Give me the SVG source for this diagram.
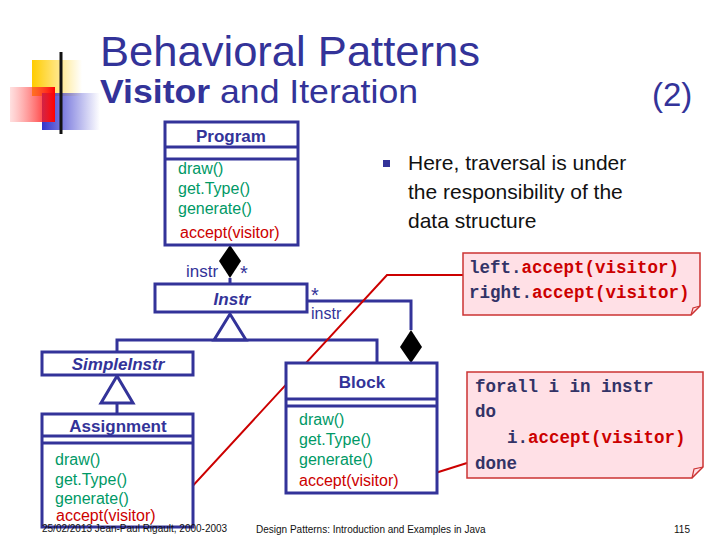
<svg xmlns="http://www.w3.org/2000/svg" width="720" height="540" viewBox="0 0 720 540">
<style>
.b{fill:#fff;stroke:#333399;stroke-width:3}
.l{stroke:#333399;stroke-width:3;fill:none}
.t{font-family:"Liberation Sans",Arial,sans-serif}
.g{fill:#009966;font-size:16px}
.r{fill:#cc0000}
.h{fill:#333399;font-weight:bold;font-size:17px}
.m{font-family:"Liberation Mono","Courier New",monospace;font-weight:bold;font-size:17.5px;fill:#333366}
.n{fill:#ffe0e6;stroke:#cc3333;stroke-width:1.5}
</style>
<defs>
<linearGradient id="gy" x1="0" x2="1"><stop offset="0" stop-color="#ffcc00"/><stop offset="1" stop-color="#ffcc00" stop-opacity="0"/></linearGradient>
<linearGradient id="gb" x1="0" x2="1"><stop offset="0" stop-color="#3333cc"/><stop offset="1" stop-color="#3333cc" stop-opacity="0"/></linearGradient>
<linearGradient id="gr" x1="1" x2="0"><stop offset="0" stop-color="#ff0000"/><stop offset="1" stop-color="#ff6666" stop-opacity="0.2"/></linearGradient>
<linearGradient id="gl" x1="0" x2="1"><stop offset="0" stop-color="#222"/><stop offset="1" stop-color="#888"/></linearGradient>
</defs>
<g id="logo">
<rect x="32" y="60" width="50" height="36" fill="url(#gy)"/>
<rect x="42" y="93" width="58" height="37" fill="url(#gb)"/>
<rect x="10" y="87" width="45" height="35" fill="url(#gr)"/>
<line x1="61" y1="52" x2="61" y2="134" stroke="#111" stroke-width="3"/>
<line x1="34" y1="115" x2="420" y2="115" stroke="url(#gl)" stroke-width="3"/>
</g>
<g id="title" class="t" fill="#333399">
<text x="100" y="66" font-size="43" textLength="380" lengthAdjust="spacingAndGlyphs">Behavioral Patterns</text>
<text x="100" y="103" font-size="33" textLength="318" lengthAdjust="spacingAndGlyphs"><tspan font-weight="bold">Visitor</tspan> and Iteration</text>
<text x="652" y="106" font-size="33">(2)</text>
</g>
<g id="bullet" class="t" font-size="21" fill="#111">
<rect x="383" y="160" width="7" height="7" fill="#333399"/>
<text x="408" y="170">Here, traversal is under</text>
<text x="408" y="199">the responsibility of the</text>
<text x="408" y="228">data structure</text>
</g>
<g id="connectors">
<line class="l" x1="230" y1="278" x2="230" y2="284"/>
<polygon points="230,245 241,261 230,278 219,261" fill="#000"/>
<polygon class="b" points="230,314 214,340 246,340"/>
<polyline class="l" points="117,352 117,340 377,340 377,363"/>
<polygon class="b" points="117,376 101,403 133,403"/>
<line class="l" x1="117" y1="403" x2="117" y2="414"/>
<polyline class="l" points="307,301 411,301 411,330"/>
<polygon points="411,330 422,347 411,363 400,347" fill="#000"/>
<polyline points="165,516 387,275 465,275" fill="none" stroke="#cc0000" stroke-width="2"/>
<line x1="410" y1="481" x2="467" y2="463" stroke="#cc0000" stroke-width="2"/>
</g>
<g id="Program" class="t">
<rect class="b" x="165" y="122" width="133" height="123"/>
<line class="l" x1="165" y1="147" x2="298" y2="147"/><line class="l" x1="165" y1="159" x2="298" y2="159"/>
<text x="231" y="142" class="h" text-anchor="middle">Program</text>
<text x="178" y="174" class="g">draw()</text><text x="178" y="194" class="g">get.Type()</text><text x="178" y="214" class="g">generate()</text>
<text x="180" y="238" class="r" font-size="16">accept(visitor)</text>
<text x="186" y="277" font-size="17" fill="#333399">instr</text><text x="240" y="280" font-size="20" fill="#333399">*</text>
</g>
<g id="Instr" class="t">
<rect class="b" x="155" y="284" width="152" height="28"/>
<text x="232" y="305" class="h" font-style="italic" text-anchor="middle">Instr</text>
<text x="311" y="302" font-size="20" fill="#333399">*</text><text x="311" y="319" font-size="16" fill="#333399">instr</text>
</g>
<g id="SimpleInstr" class="t">
<rect class="b" x="42" y="352" width="151" height="23"/>
<text x="118" y="370" class="h" font-style="italic" text-anchor="middle">SimpleInstr</text>
</g>
<g id="Assignment" class="t">
<rect class="b" x="42" y="414" width="151" height="113"/>
<line class="l" x1="42" y1="436" x2="193" y2="436"/><line class="l" x1="42" y1="443" x2="193" y2="443"/>
<text x="118" y="432" class="h" text-anchor="middle">Assignment</text>
<text x="55" y="465" class="g">draw()</text><text x="55" y="485" class="g">get.Type()</text><text x="55" y="504" class="g">generate()</text>
<text x="56" y="521" class="r" font-size="16">accept(visitor)</text>
</g>
<g id="Block" class="t">
<rect class="b" x="286" y="363" width="151" height="130"/>
<line class="l" x1="286" y1="399" x2="437" y2="399"/><line class="l" x1="286" y1="406" x2="437" y2="406"/>
<text x="362" y="388" class="h" text-anchor="middle">Block</text>
<text x="299" y="425" class="g">draw()</text><text x="299" y="445" class="g">get.Type()</text><text x="299" y="465" class="g">generate()</text>
<text x="299" y="486" class="r" font-size="16">accept(visitor)</text>
</g>
<g id="note1">
<path class="n" d="M463,253 H700 V306 L691,315 H463 Z"/>
<path d="M691,315 L693,308 L700,306" fill="none" stroke="#cc3333" stroke-width="1.2"/>
<text x="469" y="273" class="m">left.<tspan fill="#cc0000">accept(visitor)</tspan></text>
<text x="469" y="298" class="m">right.<tspan fill="#cc0000">accept(visitor)</tspan></text>
</g>
<g id="note2">
<path class="n" d="M467,372 H703 V467 L692,478 H467 Z"/>
<path d="M692,478 L694,469 L703,467" fill="none" stroke="#cc3333" stroke-width="1.2"/>
<text x="475" y="392" class="m">forall i in instr</text>
<text x="475" y="417" class="m">do</text>
<text x="507" y="443" class="m">i.<tspan fill="#cc0000">accept(visitor)</tspan></text>
<text x="475" y="469" class="m">done</text>
</g>
<g id="footer" class="t" font-size="10" fill="#111">
<text x="42" y="532">25/02/2013 Jean-Paul Rigault, 2000-2003</text>
<text x="256" y="533">Design Patterns: Introduction and Examples in Java</text>
<text x="690" y="533" text-anchor="end">115</text>
</g>
</svg>
